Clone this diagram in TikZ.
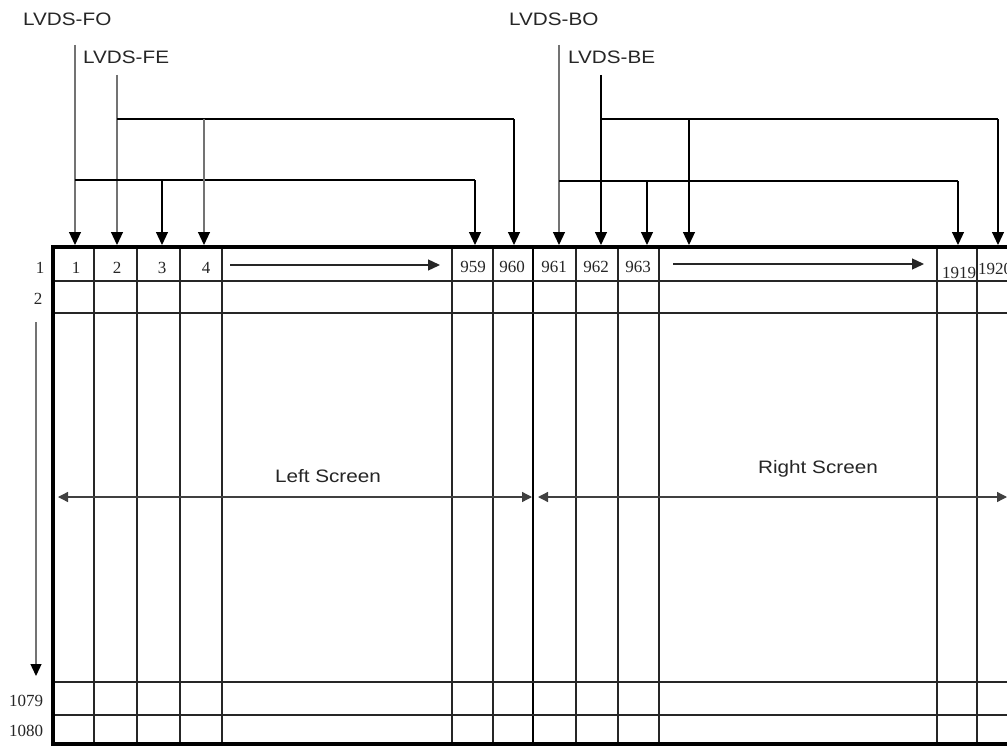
\documentclass[tikz,border=0pt]{standalone}
\usepackage{fontspec}
\setmainfont{Liberation Serif}
\newfontfamily\labfont[FakeStretch=1.15]{Liberation Sans}
\usetikzlibrary{arrows.meta}
\tikzset{
  lbl/.style={font=\labfont\fontsize{18bp}{20bp}\selectfont, text=black!85, inner sep=0pt},
  num/.style={font=\fontsize{17bp}{19bp}\selectfont, text=black!85, inner sep=0pt},
  gridline/.style={line width=1.3bp, black!85},
  border/.style={line width=4.2bp, black},
  bus/.style={line width=1.2bp, black},
  busg/.style={line width=1.2bp, black!55},
  feed/.style={bus, -{Triangle[length=13bp,width=12bp]}},
  feedg/.style={busg, -{Triangle[length=13bp,width=12bp,fill=black,color=black]}},
  flow/.style={line width=1.3bp, black!85, -{Triangle[length=12bp,width=11bp]}},
  span/.style={line width=1.3bp, black!75, {Triangle[length=10bp,width=10bp]}-{Triangle[length=10bp,width=10bp]}},
}
\begin{document}
\begin{tikzpicture}[x=1bp,y=-1bp]
\useasboundingbox (0,0) rectangle (1007,747);
\clip (0,0) rectangle (1007,747);
\fill[white] (0,0) rectangle (1007,747);
% ---- grid ----
\foreach \x in {94,137,180,222,452,493,576,618,659,937,977}
  \draw[gridline] (\x,247) -- (\x,744);
\draw[line width=2.3bp, black] (533,247) -- (533,744);
\foreach \y in {281,313,682,715}
  \draw[gridline] (53,\y) -- (1020,\y);
\draw[border] (1020,247) -- (53,247) -- (53,744) -- (1020,744);
% ---- labels ----
\node[lbl, anchor=west] (lfo) at (23,19) {LVDS-FO};
\node[lbl, anchor=west] (lfe) at (83,57) {LVDS-FE};
\node[lbl, anchor=west] (lbo) at (509,19) {LVDS-BO};
\node[lbl, anchor=west] (lbe) at (568,57) {LVDS-BE};
\node[lbl] (left) at (328,476) {Left Screen};
\node[lbl] (right) at (818,469) {Right Screen};
% ---- cell numbers ----
\node[num] (r1) at (40,268) {1};
\node[num] (r2) at (38,299) {2};
\node[num] (r1079) at (26,701) {1079};
\node[num] (r1080) at (26,731) {1080};
\node[num] (c1) at (76,268) {1};
\node[num] (c2) at (117,268) {2};
\node[num] (c3) at (162,268) {3};
\node[num] (c4) at (206,268) {4};
\node[num] (c959) at (473,267) {959};
\node[num] (c960) at (512,267) {960};
\node[num] (c961) at (554,267) {961};
\node[num] (c962) at (596,267) {962};
\node[num] (c963) at (638,267) {963};
\node[num] (c1919) at (959,273) {1919};
\node[num, anchor=west] (c1920) at (978,269) {1920};
% ---- source and target points ----
\coordinate (fo) at (75,45);
\coordinate (fe) at (117,75);
\coordinate (bo) at (559,45);
\coordinate (be) at (601,75);
\coordinate (t1) at (75,245);
\coordinate (t2) at (117,245);
\coordinate (t3) at (162,245);
\coordinate (t4) at (204,245);
\coordinate (t959) at (475,245);
\coordinate (t960) at (514,245);
\coordinate (t961) at (559,245);
\coordinate (t962) at (601,245);
\coordinate (t963) at (647,245);
\coordinate (t964) at (689,245);
\coordinate (t1919) at (958,245);
\coordinate (t1920) at (998,245);
% ---- buses ----
\draw[feedg] (fo) -- (t1);
\draw[feedg] (fe) -- (t2);
\draw[bus] (t1 |- 0,180) -- (t959 |- 0,180);
\draw[feed] (t959 |- 0,180) -- (t959);
\draw[feed] (t3 |- 0,180) -- (t3);
\draw[bus] (t2 |- 0,119) -- (t960 |- 0,119);
\draw[feed] (t960 |- 0,119) -- (t960);
\draw[feedg] (t4 |- 0,119) -- (t4);
\draw[feedg] (bo) -- (t961);
\draw[feed] (be) -- (t962);
\draw[bus] (t961 |- 0,181) -- (t1919 |- 0,181);
\draw[feed] (t1919 |- 0,181) -- (t1919);
\draw[feed] (t963 |- 0,181) -- (t963);
\draw[bus] (t962 |- 0,119) -- (t1920 |- 0,119);
\draw[feed] (t1920 |- 0,119) -- (t1920);
\draw[feed] (t964 |- 0,119) -- (t964);
% ---- flow arrows ----
\coordinate (a1s) at (230,265);
\coordinate (a1e) at (440,265);
\coordinate (a2s) at (673,264);
\coordinate (a2e) at (924,264);
\draw[flow] (a1s) -- (a1e);
\draw[flow] (a2s) -- (a2e);
\coordinate (vs) at (36,322);
\coordinate (ve) at (36,676);
\draw[line width=1.3bp, black!55, -{Triangle[length=12bp,width=11bp,fill=black,color=black]}] (vs) -- (ve);
\coordinate (l1) at (58,497);
\coordinate (l2) at (532,497);
\coordinate (r1p) at (538,497);
\coordinate (r2p) at (1007,497);
\draw[span] (l1) -- (l2);
\draw[span] (r1p) -- (r2p);
\end{tikzpicture}
\end{document}
